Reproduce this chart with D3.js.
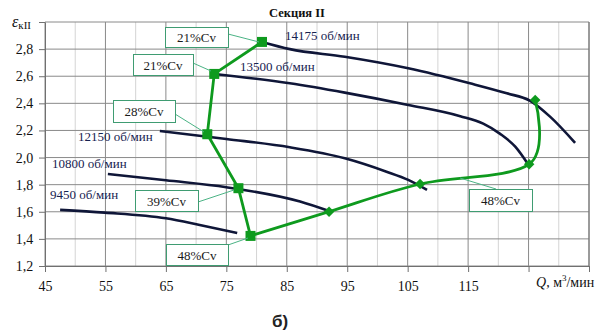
<!DOCTYPE html>
<html>
<head>
<meta charset="utf-8">
<script src="https://cdn.jsdelivr.net/npm/d3@7"></script>
<style>
  body { margin: 0; background: #fff; }
  svg { display: block; font-family: "Liberation Serif", "DejaVu Serif", serif; }
</style>
</head>
<body>
<div id="chart"></div>
<script>
// --- data ---
const xTicks = [45, 55, 65, 75, 85, 95, 105, 115, 125, 135];
const xTickLabels = ["45", "55", "65", "75", "85", "95", "105", "115", "", ""];
const yTicks = [1.2, 1.4, 1.6, 1.8, 2.0, 2.2, 2.4, 2.6, 2.8, 3.0];

const speedNames = ["14175 об/мин", "13500 об/мин", "12150 об/мин", "10800 об/мин", "9450 об/мин"];
const speed14175 = [[80.9, 2.853], [85.5, 2.80], [94.6, 2.744], [105.1, 2.659], [115.3, 2.548], [121.4, 2.474], [125.2, 2.42], [128.6, 2.30], [132.7, 2.108]];
const speed13500 = [[73.0, 2.617], [85.5, 2.548], [94.6, 2.479], [105.1, 2.388], [113.7, 2.305], [117.5, 2.250], [120.3, 2.175], [122.8, 2.080], [125.0, 1.945]];
const speed12150 = [[64.0, 2.196], [75.0, 2.137], [85.5, 2.076], [94.6, 1.995], [101.5, 1.896], [105.1, 1.835], [108.2, 1.761]];
const speed10800 = [[55.4, 1.879], [65.0, 1.832], [75.0, 1.781], [87.2, 1.675], [92.0, 1.605]];
const speed9450 = [[47.5, 1.614], [54.9, 1.594], [65.0, 1.552], [70.6, 1.503], [76.8, 1.444]];
const speedCurves = [speed14175, speed13500, speed12150, speed10800, speed9450];

// surge line: square points (straight), diamond points (smoothed)
const surgeSquares = [[80.9, 2.853], [73.0, 2.617], [71.85, 2.172], [77.0, 1.774], [79.0, 1.422]];
const surgeDiamonds = [[92.0, 1.601], [107.05, 1.805], [125.1, 1.951], [126.1, 2.425]];

const cvLabels = ["21%Cv", "21%Cv", "28%Cv", "39%Cv", "48%Cv", "48%Cv"];

// --- layout ---
const width = 605, height = 331;
const margin = {top: 22, right: 16, bottom: 65, left: 45};
const navy = "#0f1638", green = "#0e9a1e", boxGreen = "#3f9c72";

const svg = d3.select("#chart").append("svg")
  .attr("width", width)
  .attr("height", height);

const x = d3.scaleLinear().domain([45, 135]).range([margin.left, width - margin.right]);
const y = d3.scaleLinear().domain([1.2, 3.0]).range([height - margin.bottom, margin.top]);

const comma = v => d3.format(".1f")(v).replace(".", ",");

// minor vertical grid
svg.append("g")
  .selectAll("line")
  .data(xTicks.slice(0, -1).map(v => v + 5))
  .enter().append("line")
  .attr("x1", d => x(d)).attr("x2", d => x(d))
  .attr("y1", y(1.2)).attr("y2", y(3.0))
  .attr("stroke", "#d4d4d4").attr("stroke-width", 1);

// major grid
svg.append("g")
  .selectAll("line")
  .data(xTicks)
  .enter().append("line")
  .attr("x1", d => x(d)).attr("x2", d => x(d))
  .attr("y1", y(1.2)).attr("y2", y(3.0))
  .attr("stroke", "#8a8a8a").attr("stroke-width", 1);

svg.append("g")
  .selectAll("line")
  .data(yTicks)
  .enter().append("line")
  .attr("x1", x(45)).attr("x2", x(135))
  .attr("y1", d => y(d)).attr("y2", d => y(d))
  .attr("stroke", "#8a8a8a").attr("stroke-width", 1);

// axes
const xAxis = svg.append("g")
  .attr("transform", `translate(0,${y(1.2)})`)
  .call(d3.axisBottom(x).tickValues(xTicks).tickSize(6).tickSizeOuter(0)
    .tickFormat((d, i) => xTickLabels[i]));
const yAxis = svg.append("g")
  .attr("transform", `translate(${x(45)},0)`)
  .call(d3.axisLeft(y).tickValues(yTicks).tickSize(6).tickSizeOuter(0)
    .tickFormat(d => d === 3.0 ? "" : comma(d)));

[xAxis, yAxis].forEach(a => {
  a.attr("font-family", "Liberation Serif, serif");
  a.select(".domain").attr("stroke", "#707070");
  a.selectAll(".tick line").attr("stroke", "#707070");
  a.selectAll("text")
    .attr("font-size", 14)
    .attr("fill", "#111");
});
xAxis.selectAll("text").attr("dy", "1.15em");
yAxis.selectAll("text").attr("dx", "-0.2em");

// right border
svg.append("line")
  .attr("x1", x(135)).attr("x2", x(135))
  .attr("y1", y(1.2)).attr("y2", y(3.0))
  .attr("stroke", "#707070");

// speed lines
const speedLine = d3.line()
  .x(d => x(d[0])).y(d => y(d[1]))
  .curve(d3.curveMonotoneX);

svg.append("g")
  .selectAll("path")
  .data(speedCurves)
  .enter().append("path")
  .attr("d", speedLine)
  .attr("fill", "none")
  .attr("stroke", navy)
  .attr("stroke-width", 2.6)
  .attr("stroke-linecap", "butt");

// speed labels
const speedLabelPos = [[285, 40], [240, 71], [78, 141], [52, 168], [50, 199]];
svg.append("g")
  .selectAll("text")
  .data(speedNames)
  .enter().append("text")
  .attr("x", (d, i) => speedLabelPos[i][0])
  .attr("y", (d, i) => speedLabelPos[i][1])
  .attr("font-size", 13)
  .attr("fill", "#16214f")
  .text(d => d);

// surge line
const straight = d3.line().x(d => x(d[0])).y(d => y(d[1]));
const smooth = d3.line().x(d => x(d[0])).y(d => y(d[1])).curve(d3.curveCardinal.tension(0));

svg.append("path")
  .attr("d", straight(surgeSquares))
  .attr("fill", "none")
  .attr("stroke", green)
  .attr("stroke-width", 2.8)
  .attr("stroke-linejoin", "round");

svg.append("path")
  .attr("d", smooth([surgeSquares[surgeSquares.length - 1], ...surgeDiamonds]))
  .attr("fill", "none")
  .attr("stroke", green)
  .attr("stroke-width", 2.8);

svg.append("g")
  .selectAll("rect")
  .data(surgeSquares)
  .enter().append("rect")
  .attr("x", d => x(d[0]) - 5)
  .attr("y", d => y(d[1]) - 5)
  .attr("width", 10).attr("height", 10)
  .attr("fill", green);

svg.append("g")
  .selectAll("path")
  .data(surgeDiamonds)
  .enter().append("path")
  .attr("d", d3.symbol().type(d3.symbolDiamond2).size(70))
  .attr("transform", d => `translate(${x(d[0])},${y(d[1])})`)
  .attr("fill", green);

// Cv callouts: box [x, y, w, h], leader [x1, y1, x2, y2]
const cvBoxes = [[165, 27, 63, 20], [133, 54, 60, 21], [113, 100, 62, 22], [135, 190, 63, 21], [166, 244, 62, 21], [469, 189, 63, 22]];
const cvLeaders = [[228, 34, 259, 42], [193, 63, 211, 71], [175, 114, 204, 132], [198, 202, 234, 190], [228, 245, 248, 238], [496, 189, 460, 178]];

svg.append("g")
  .selectAll("line")
  .data(cvLeaders)
  .enter().append("line")
  .attr("x1", d => d[0]).attr("y1", d => d[1])
  .attr("x2", d => d[2]).attr("y2", d => d[3])
  .attr("stroke", "#4bb385").attr("stroke-width", 1);

const cv = svg.append("g")
  .selectAll("g")
  .data(cvLabels)
  .enter().append("g");
cv.append("rect")
  .attr("x", (d, i) => cvBoxes[i][0] + 0.5)
  .attr("y", (d, i) => cvBoxes[i][1] + 0.5)
  .attr("width", (d, i) => cvBoxes[i][2])
  .attr("height", (d, i) => cvBoxes[i][3])
  .attr("fill", "#fff")
  .attr("stroke", boxGreen);
cv.append("text")
  .attr("x", (d, i) => cvBoxes[i][0] + cvBoxes[i][2] / 2)
  .attr("y", (d, i) => cvBoxes[i][1] + cvBoxes[i][3] / 2 + 5)
  .attr("text-anchor", "middle")
  .attr("font-size", 13)
  .attr("fill", "#1a1a1a")
  .text(d => d);

// titles
svg.append("text")
  .attr("x", 297).attr("y", 17)
  .attr("text-anchor", "middle")
  .attr("font-size", 12.5)
  .attr("font-weight", "bold")
  .attr("fill", "#111")
  .text("Секция II");

const yl = svg.append("text")
  .attr("x", 12).attr("y", 27)
  .attr("font-size", 16)
  .attr("fill", "#111");
yl.append("tspan").attr("font-style", "italic").text("ε");
yl.append("tspan").attr("font-size", 11).attr("dy", 2).text("кII");

const xl = svg.append("text")
  .attr("x", 536).attr("y", 287)
  .attr("font-size", 14)
  .attr("fill", "#111");
xl.append("tspan").attr("font-style", "italic").text("Q");
xl.append("tspan").text(", м");
xl.append("tspan").attr("font-size", 9).attr("dy", -6).text("3");
xl.append("tspan").attr("dy", 6).text("/мин");

svg.append("text")
  .attr("x", 280).attr("y", 327)
  .attr("text-anchor", "middle")
  .attr("font-family", "Liberation Sans, sans-serif")
  .attr("font-size", 17)
  .attr("font-weight", "bold")
  .attr("fill", "#222")
  .text("б)");
</script>
</body>
</html>
